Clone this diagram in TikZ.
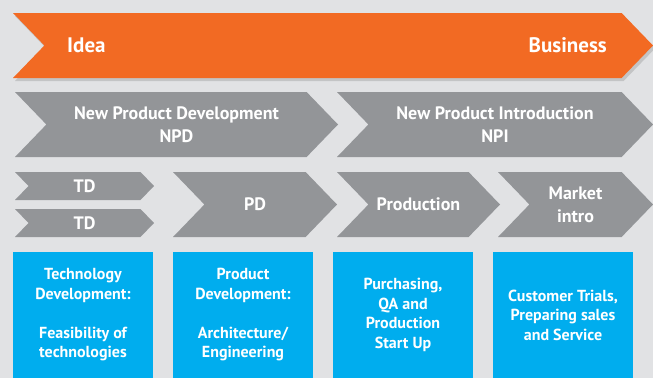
\documentclass[tikz,border=0pt]{standalone}
\usepackage{fontspec}
\setsansfont{PT Sans}
\usepackage{tikz}
\usetikzlibrary{positioning,shapes.symbols,shadows}

\definecolor{bggray}{HTML}{E1E2E4}
\definecolor{chevgray}{HTML}{939598}
\definecolor{idorange}{HTML}{F26A23}
\definecolor{boxblue}{HTML}{00ADEE}

\begin{document}
\begin{tikzpicture}[x=1pt, y=-1pt,
		chev/.style={signal, signal from=west, signal to=east, signal pointer angle=92, fill=chevgray, draw=none, inner sep=0pt, text=white, align=center, font=\sffamily\bfseries\fontsize{18}{23}\selectfont},
		bigchev/.style={chev, fill=idorange, drop shadow={shadow xshift=2pt, shadow yshift=-3pt, opacity=0.3}},
		label/.style={text=white, inner sep=0pt, font=\sffamily\bfseries\fontsize{21}{24}\selectfont},
		info/.style={rectangle, fill=boxblue, draw=none, inner sep=0pt, minimum width=140pt, minimum height=126pt, text=white, align=center, font=\sffamily\bfseries\fontsize{16}{19.5}\selectfont},
		]
		% background
		\fill[bggray] (0,0) rectangle (653,378);
		\useasboundingbox (0,0) rectangle (653,378);

		%Idea to Business
		\node[bigchev, minimum width=640pt, minimum height=65pt]	(flow)	at (333,45.5)	{};
		\node[label, anchor=west]	(idea)		at (67,45.5)	{Idea};
		\node[label, anchor=east]	(business)	at (607,45.5)	{Business};

		%NPD and NPI
		\node[chev, minimum width=323pt, minimum height=65pt]	(npd)	at (176.5,124.5)	{New Product Development\\NPD};
		\node[chev, minimum width=316pt, minimum height=65pt]	(npi)	at (495,124.5)	{New Product Introduction\\NPI};

		%Phases
		\node[chev, minimum width=139pt, minimum height=28pt]	(td_1)	at (84.5,186)	{TD};
		\node[chev, minimum width=139pt, minimum height=28pt]	(td_2)	at (84.5,223)	{TD};
		\node[chev, minimum width=164pt, minimum height=65pt]	(pd)	at (255,204.5)	{PD};
		\node[chev, minimum width=163pt, minimum height=65pt]	(prod)	at (418.5,204.5)	{Production};
		\node[chev, minimum width=155pt, minimum height=65pt]	(market)	at (575.5,204.5)	{Market\\intro};

		%Descriptions
		\node[info]	(tech_dev)	at (83,315)	{Technology\\Development:\\[19.5pt]Feasibility of\\technologies};
		\node[info]	(prod_dev)	at (243,315)	{Product\\Development:\\[19.5pt]Architecture/\\Engineering};
		\node[info]	(purch)		at (403,315)	{Purchasing,\\QA and\\Production\\Start Up};
		\node[info]	(trials)	at (563,315)	{Customer Trials,\\Preparing sales\\and Service};
	\end{tikzpicture}
\end{document}
